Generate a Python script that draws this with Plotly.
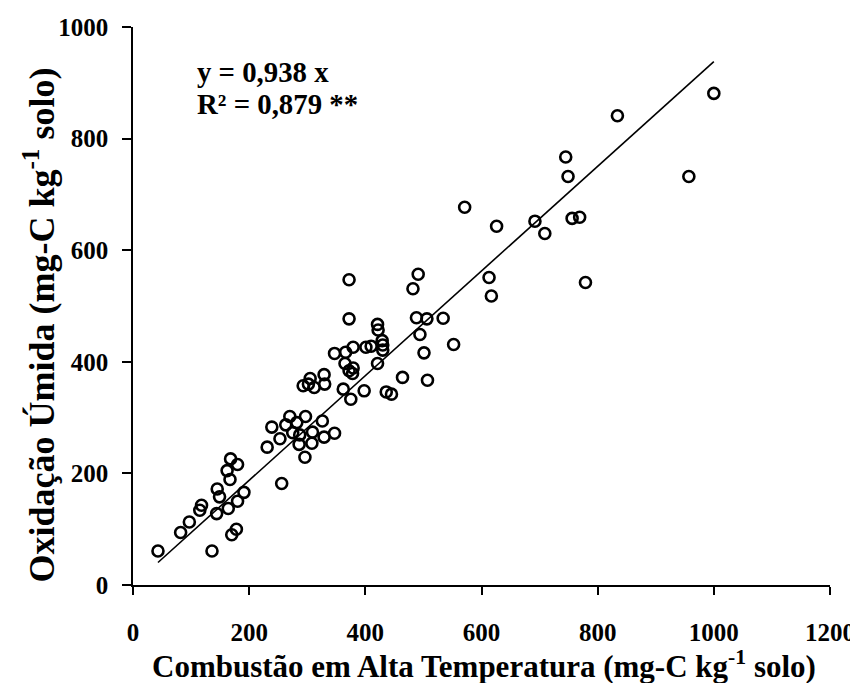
import plotly.graph_objects as go

# Data (mg-C kg-1 solo)
combustao = [43, 82, 97, 115, 118, 136, 144, 145, 149, 164, 162, 167, 168, 170, 178, 180, 180, 191,
             231, 239, 253, 256, 263, 270, 275, 282, 286, 287, 296, 297, 308, 309, 326, 329, 347,
             293, 302, 305, 312, 329, 330, 347, 362, 365, 366, 372, 372, 372, 375, 378, 379, 379,
             398, 401, 410, 421, 421, 422, 429, 430, 430, 436, 445, 464, 482, 488, 491, 494, 501,
             506, 507, 534, 552, 571, 613, 617, 626, 692, 709, 745, 749, 756, 769, 779, 834, 957, 1000]
oxidacao = [61, 94, 113, 134, 143, 61, 128, 172, 158, 137, 205, 189, 226, 90, 100, 150, 216, 166,
            247, 283, 262, 182, 287, 302, 273, 291, 252, 269, 229, 302, 254, 274, 294, 265, 272,
            357, 360, 370, 354, 377, 360, 415, 351, 397, 417, 384, 477, 547, 333, 379, 389, 426,
            348, 426, 428, 397, 467, 457, 438, 430, 421, 346, 342, 372, 531, 479, 557, 449, 416,
            477, 367, 478, 431, 677, 551, 518, 643, 652, 630, 767, 732, 657, 659, 542, 841, 732, 881]
slope = 0.938
x_ticks = [0, 200, 400, 600, 800, 1000, 1200]
y_ticks = [0, 200, 400, 600, 800, 1000]
eq_lines = ["y = 0,938 x", "R² = 0,879 **"]
x_title = "Combustão em Alta Temperatura (mg-C kg<sup>-1</sup> solo)"
y_title = "Oxidação Úmida (mg-C kg<sup>-1</sup> solo)"

fit_x = [min(combustao), max(combustao)]
fit_y = [slope * v for v in fit_x]

font_family = "Liberation Serif"

fig = go.Figure()
fig.add_trace(go.Scatter(
    x=fit_x, y=fit_y, mode="lines",
    line=dict(color="black", width=1.6), showlegend=False, hoverinfo="skip"))
fig.add_trace(go.Scatter(
    x=combustao, y=oxidacao, mode="markers",
    marker=dict(symbol="circle-open", size=11, color="black", line=dict(width=2.6, color="black")),
    showlegend=False))

for txt, yy in zip(eq_lines, [920, 862]):
    fig.add_annotation(
        x=108, y=yy, xref="x", yref="y", xanchor="left", yanchor="middle", align="left",
        text=f"<b>{txt}</b>", showarrow=False, borderpad=0,
        font=dict(family=font_family, size=28.8, color="black"))

# axis titles as annotations for exact placement
fig.add_annotation(
    x=-0.134, y=0.466, xref="paper", yref="paper", xanchor="center", yanchor="middle",
    text=f"<b>{y_title}</b>", textangle=-90, showarrow=False, borderpad=0,
    font=dict(family=font_family, size=36, color="black"))
fig.add_annotation(
    x=0.503, y=-0.1787, xref="paper", yref="paper", xanchor="center", yanchor="bottom",
    text=f"<b>{x_title}</b>", showarrow=False, borderpad=0,
    font=dict(family=font_family, size=31, color="black"))

fig.update_layout(
    width=850, height=675,
    margin=dict(l=125, r=28, t=19, b=98, autoexpand=False),
    paper_bgcolor="white", plot_bgcolor="white",
    font=dict(family=font_family, color="black"),
)
fig.update_xaxes(
    range=[0, 1200], tickvals=x_ticks, ticktext=[f"<b>{v}</b>" for v in x_ticks],
    showline=True, linecolor="black", linewidth=1.5, ticks="outside", ticklen=8, tickwidth=1.5,
    tickcolor="black", showgrid=False, zeroline=False, ticklabelstandoff=16,
    tickfont=dict(family=font_family, size=25, color="black"))
fig.update_yaxes(
    range=[0, 1000], tickvals=y_ticks, ticktext=[f"<b>{v}</b>" for v in y_ticks],
    showline=True, linecolor="black", linewidth=1.5, ticks="outside", ticklen=9, tickwidth=1.5,
    tickcolor="black", showgrid=False, zeroline=False, ticklabelstandoff=9,
    tickfont=dict(family=font_family, size=25, color="black"))

fig.write_html("out.html")
